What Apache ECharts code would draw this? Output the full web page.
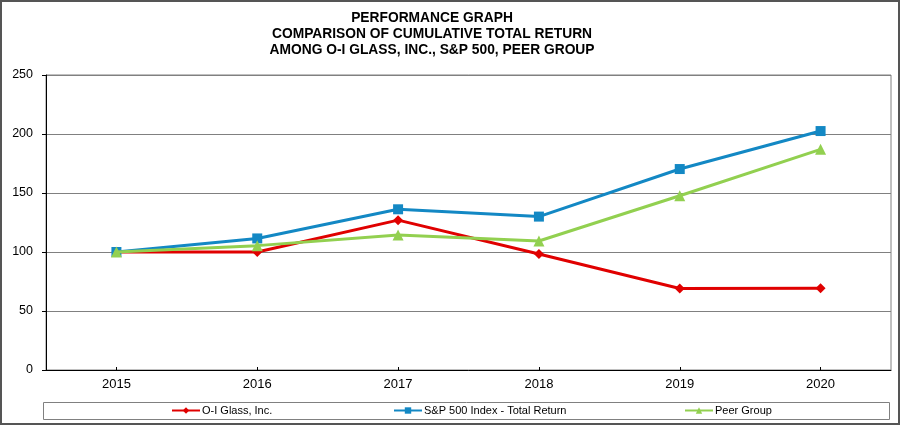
<!DOCTYPE html>
<html>
<head>
<meta charset="utf-8">
<script src="https://cdn.jsdelivr.net/npm/echarts@6/dist/echarts.min.js"></script>
<style>html,body{margin:0;padding:0;background:#fff;}#c{width:905px;height:427px;}</style>
</head>
<body>
<div id="c"></div>
<script>
const years = ['2015', '2016', '2017', '2018', '2019', '2020'];
const oiGlass = [100, 100, 127, 98.3, 69, 69.3];
const sp500 = [100, 111.5, 136.2, 130, 170.3, 202.5];
const peerGroup = [100, 105.4, 114.5, 109.3, 147.7, 187];
const seriesNames = ['O-I Glass, Inc.', 'S&P 500 Index - Total Return', 'Peer Group'];
const titleLines = ['PERFORMANCE GRAPH', 'COMPARISON OF CUMULATIVE TOTAL RETURN', 'AMONG O-I GLASS, INC., S&P 500, PEER GROUP'];

const FONT = '"Liberation Sans", Arial, sans-serif';
const colors = ['#E00000', '#1388C4', '#92D050'];
const symbols = ['diamond', 'rect', 'triangle'];
const sizes = [10, 10, 11];
const dataSets = [oiGlass, sp500, peerGroup];
const legendLefts = [171, 393, 684];

const chart = echarts.init(document.getElementById('c'), null, {renderer: 'canvas'});
chart.setOption({
  animation: false,
  backgroundColor: '#ffffff',
  title: {
    text: titleLines.join('\n'),
    left: 427,
    textAlign: 'center',
    top: 5,
    textStyle: {fontFamily: FONT, fontSize: 13.8, fontWeight: 'bold', color: '#000', lineHeight: 16}
  },
  legend: seriesNames.map((n, i) => ({
    data: [n],
    left: legendLefts[i],
    top: 405,
    padding: 0,
    itemWidth: 28,
    itemHeight: 8,
    itemGap: 2,
    textStyle: {fontFamily: FONT, fontSize: 11, color: '#000', padding: [0, 0, 0, -3]}
  })),
  grid: {left: 46, right: 14, top: 75, bottom: 57, show: true, borderColor: '#808080', borderWidth: 1, containLabel: false},
  xAxis: {
    type: 'category',
    data: years,
    boundaryGap: true,
    axisLine: {show: true, lineStyle: {color: '#000', width: 1}},
    axisTick: {show: true, alignWithLabel: true, inside: true, length: 3, lineStyle: {color: '#000'}},
    axisLabel: {fontFamily: FONT, fontSize: 13, color: '#000', margin: 8},
    splitLine: {show: false}
  },
  yAxis: {
    type: 'value',
    min: 0, max: 250, interval: 50,
    axisLine: {show: true, lineStyle: {color: '#000', width: 1}},
    axisTick: {show: true, length: 4, lineStyle: {color: '#000'}},
    axisLabel: {fontFamily: FONT, fontSize: 12.5, color: '#000', margin: 13},
    splitLine: {show: true, lineStyle: {color: '#808080', width: 1.2}}
  },
  series: seriesNames.map((n, i) => ({
    name: n,
    type: 'line',
    data: dataSets[i],
    color: colors[i],
    symbol: symbols[i],
    symbolSize: sizes[i],
    lineStyle: {width: 3, color: colors[i]},
    itemStyle: {color: colors[i]},
    z: 2 + i
  })),
  graphic: [
    {type: 'rect', shape: {x: 1, y: 1, width: 898, height: 423}, style: {fill: 'none', stroke: '#555', lineWidth: 2}, silent: true, z: -1},
    {type: 'rect', shape: {x: 43.5, y: 402.5, width: 846, height: 17}, style: {fill: 'none', stroke: '#808080', lineWidth: 1}, silent: true, z: -1}
  ]
});
</script>
</body>
</html>
